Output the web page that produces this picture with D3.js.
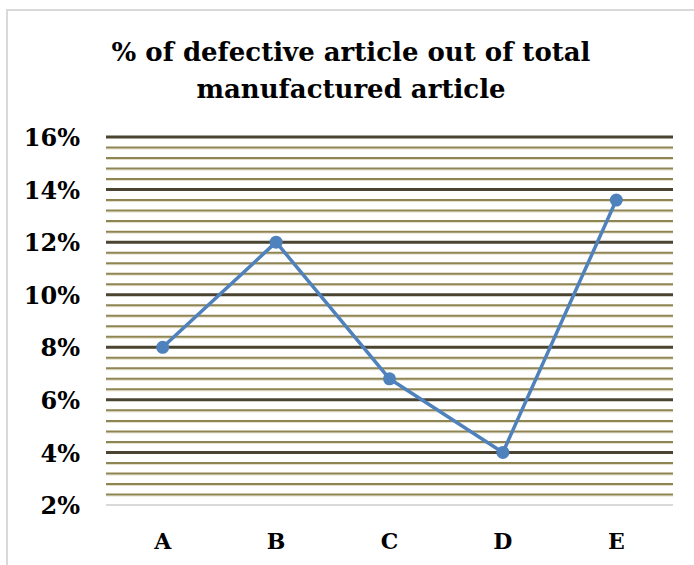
<!DOCTYPE html>
<html>
<head>
<meta charset="utf-8">
<script src="https://cdn.jsdelivr.net/npm/d3@7"></script>
<style>
  body { margin: 0; background: #fff; }
  svg { display: block; }
</style>
</head>
<body>
<svg id="chart"></svg>
<script>
// chart data
const categories = ["A", "B", "C", "D", "E"];
const defectPct = [8, 12, 6.8, 4, 13.6];
const yTickValues = [2, 4, 6, 8, 10, 12, 14, 16];
const titleLines = ["% of defective article out of total", "manufactured article"];

const width = 694;
const height = 565;

const marginLeft = 106;
const marginRight = 21;
const plotTop = 137;
const plotBottom = 505;

const svg = d3.select("#chart")
  .attr("width", width)
  .attr("height", height);

// chart area border (page crop shows top and left edges only)
svg.append("path")
  .attr("d", `M7,${height} V10 H${width}`)
  .attr("fill", "none")
  .attr("stroke", "#d9d9d9")
  .attr("stroke-width", 2);

// scales
const x = d3.scaleBand()
  .domain(categories)
  .range([marginLeft, width - marginRight]);

const y = d3.scaleLinear()
  .domain([2, 16])
  .range([plotBottom, plotTop]);

// minor gridlines every 0.4%
const minorStep = 0.4;
const minorTicks = d3.range(2 + minorStep, 16, minorStep)
  .filter(v => Math.abs(v / 2 - Math.round(v / 2)) > 0.01);

const grid = svg.append("g").attr("class", "grid");

grid.selectAll("line.minor-edge")
  .data(minorTicks)
  .join("line")
    .attr("class", "minor-edge")
    .attr("x1", marginLeft)
    .attr("x2", width - marginRight)
    .attr("y1", d => y(d) + 1.5)
    .attr("y2", d => y(d) + 1.5)
    .attr("stroke", "#e2dec9")
    .attr("stroke-width", 1);

grid.selectAll("line.minor")
  .data(minorTicks)
  .join("line")
    .attr("class", "minor")
    .attr("x1", marginLeft)
    .attr("x2", width - marginRight)
    .attr("y1", d => y(d))
    .attr("y2", d => y(d))
    .attr("stroke", "#8f8552")
    .attr("stroke-width", 2);

// major gridlines
grid.selectAll("line.major")
  .data(yTickValues.filter(d => d > 2))
  .join("line")
    .attr("class", "major")
    .attr("x1", marginLeft)
    .attr("x2", width - marginRight)
    .attr("y1", d => y(d))
    .attr("y2", d => y(d))
    .attr("stroke", "#4a4430")
    .attr("stroke-width", 3);

// x axis baseline
svg.append("line")
  .attr("x1", marginLeft)
  .attr("x2", width - marginRight)
  .attr("y1", plotBottom)
  .attr("y2", plotBottom)
  .attr("stroke", "#d9d9d9")
  .attr("stroke-width", 2);

// y axis labels
svg.append("g")
  .attr("class", "y-axis")
  .attr("transform", `translate(80,0)`)
  .call(d3.axisLeft(y).tickValues(yTickValues).tickFormat(d => d + "%").tickSize(0).tickPadding(0))
  .call(g => g.select(".domain").remove())
  .call(g => g.selectAll("text")
    .attr("fill", "#000")
    .attr("font-family", "'DejaVu Serif', serif")
    .attr("font-weight", "bold")
    .attr("font-size", 24)
    .attr("dy", "0.36em"));

// x axis labels
svg.append("g")
  .attr("class", "x-axis")
  .attr("transform", `translate(0,${plotBottom})`)
  .call(d3.axisBottom(x).tickSize(0).tickPadding(0))
  .call(g => g.select(".domain").remove())
  .call(g => g.selectAll("text")
    .attr("fill", "#000")
    .attr("font-family", "'DejaVu Serif', serif")
    .attr("font-weight", "bold")
    .attr("font-size", 22)
    .attr("y", 44)
    .attr("dy", 0));

// line + markers
const points = categories.map((c, i) => ({ cat: c, value: defectPct[i] }));

const line = d3.line()
  .x(d => x(d.cat) + x.bandwidth() / 2)
  .y(d => y(d.value));

svg.append("path")
  .datum(points)
  .attr("fill", "none")
  .attr("stroke", "#4f81bd")
  .attr("stroke-width", 3.5)
  .attr("stroke-linejoin", "round")
  .attr("d", line);

svg.append("g")
  .selectAll("circle")
  .data(points)
  .join("circle")
    .attr("cx", d => x(d.cat) + x.bandwidth() / 2)
    .attr("cy", d => y(d.value))
    .attr("r", 6.5)
    .attr("fill", "#4f81bd");

// title
svg.append("text")
  .attr("x", 351)
  .attr("y", 61)
  .attr("text-anchor", "middle")
  .attr("font-family", "'DejaVu Serif', serif")
  .attr("font-weight", "bold")
  .attr("font-size", 26)
  .attr("fill", "#000")
  .selectAll("tspan")
  .data(titleLines)
  .join("tspan")
    .attr("x", 351)
    .attr("dy", (d, i) => i === 0 ? 0 : 37)
    .text(d => d);
</script>
</body>
</html>
